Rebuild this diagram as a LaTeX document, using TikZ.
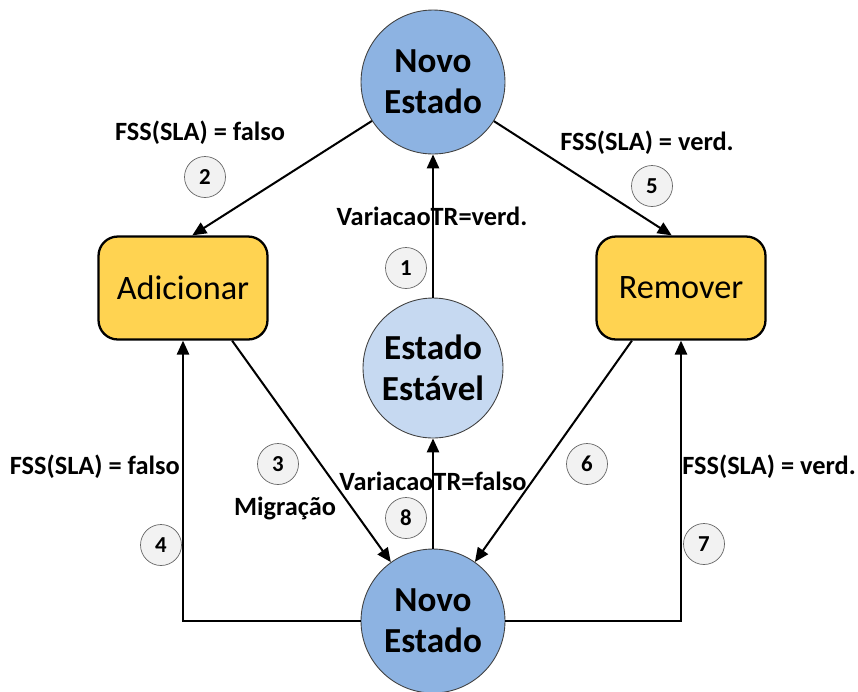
\documentclass[tikz,border=0pt]{standalone}
\usepackage{fontspec}
\setmainfont{Carlito}
\usetikzlibrary{arrows.meta}

\definecolor{NovoBlue}{HTML}{8DB3E2}
\definecolor{EstavelBlue}{HTML}{C6D9F1}
\definecolor{BoxGold}{HTML}{FFD351}
\definecolor{NumGray}{HTML}{F2F2F2}

\begin{document}
\begin{tikzpicture}[
	x=0.02cm, y=-0.02cm,
	>={Triangle[length=8pt, width=7pt]},
	StateNode/.style={circle, draw=black!75, line width=0.5pt, minimum size=2.88cm,
		inner sep=0pt, align=center, font=\fontsize{20}{23.5}\selectfont\bfseries},
	NovoStyle/.style={StateNode, fill=NovoBlue},
	EstavelStyle/.style={StateNode, fill=EstavelBlue, minimum size=2.8cm},
	ActionBox/.style={draw, line width=1.3pt, rounded corners=11pt, fill=BoxGold,
		minimum width=3.38cm, minimum height=2.06cm, font=\fontsize{19.5}{22}\selectfont},
	NumStyle/.style={circle, draw=black!60, fill=NumGray, minimum size=0.82cm,
		inner sep=0pt, font=\fontsize{13}{15}\selectfont\bfseries},
	LabelStyle/.style={font=\fontsize{15}{18}\selectfont\bfseries, inner sep=0pt},
	Arrow/.style={->, line width=1.15pt},
	]
	\useasboundingbox (0,0) rectangle (858,691);
	
	% states and actions
	\node [NovoStyle] (NovoTop) at (433,82) {Novo\\Estado};
	\node [EstavelStyle] (Estavel) at (433,368) {Estado\\Estável};
	\node [NovoStyle] (NovoBot) at (433,621) {Novo\\Estado};
	\node [ActionBox] (Adicionar) at (183,288) {Adicionar};
	\node [ActionBox] (Remover) at (681,288) {Remover};
	
	% transitions
	\draw [Arrow] (NovoTop) -- (Adicionar.80);
	\draw [Arrow] (NovoTop) -- (Remover.100);
	\draw [Arrow] (Estavel) -- (NovoTop);
	\draw [Arrow] (NovoBot) -- (Estavel);
	\draw [Arrow] (Adicionar.-47) -- (NovoBot);
	\draw [Arrow] (Remover.-133) -- (NovoBot);
	\draw [Arrow] (NovoBot.west) -| (Adicionar.south);
	\draw [Arrow] (NovoBot.east) -| (Remover.south);
	
	% labels
	\node [LabelStyle] (lab2) at (200,133) {FSS(SLA) = falso};
	\node [LabelStyle] (lab5) at (647,143) {FSS(SLA) = verd.};
	\node [LabelStyle] (lab1) at (432,216) {VariacaoTR=verd.};
	\node [LabelStyle] (lab3) at (285,508) {Migração};
	\node [LabelStyle] (lab8) at (433,481) {VariacaoTR=falso};
	\node [LabelStyle, anchor=east] (lab4) at (180,467) {FSS(SLA) = falso};
	\node [LabelStyle, anchor=west] (lab7) at (682,467) {FSS(SLA) = verd.};
	
	% step numbers
	\node [NumStyle] (n1) at (406,268) {1};
	\node [NumStyle] (n2) at (205,177) {2};
	\node [NumStyle] (n3) at (278,464) {3};
	\node [NumStyle] (n4) at (161,545) {4};
	\node [NumStyle] (n5) at (652,186) {5};
	\node [NumStyle] (n6) at (587,464) {6};
	\node [NumStyle] (n7) at (704,544) {7};
	\node [NumStyle] (n8) at (406,518) {8};
\end{tikzpicture}
\end{document}
